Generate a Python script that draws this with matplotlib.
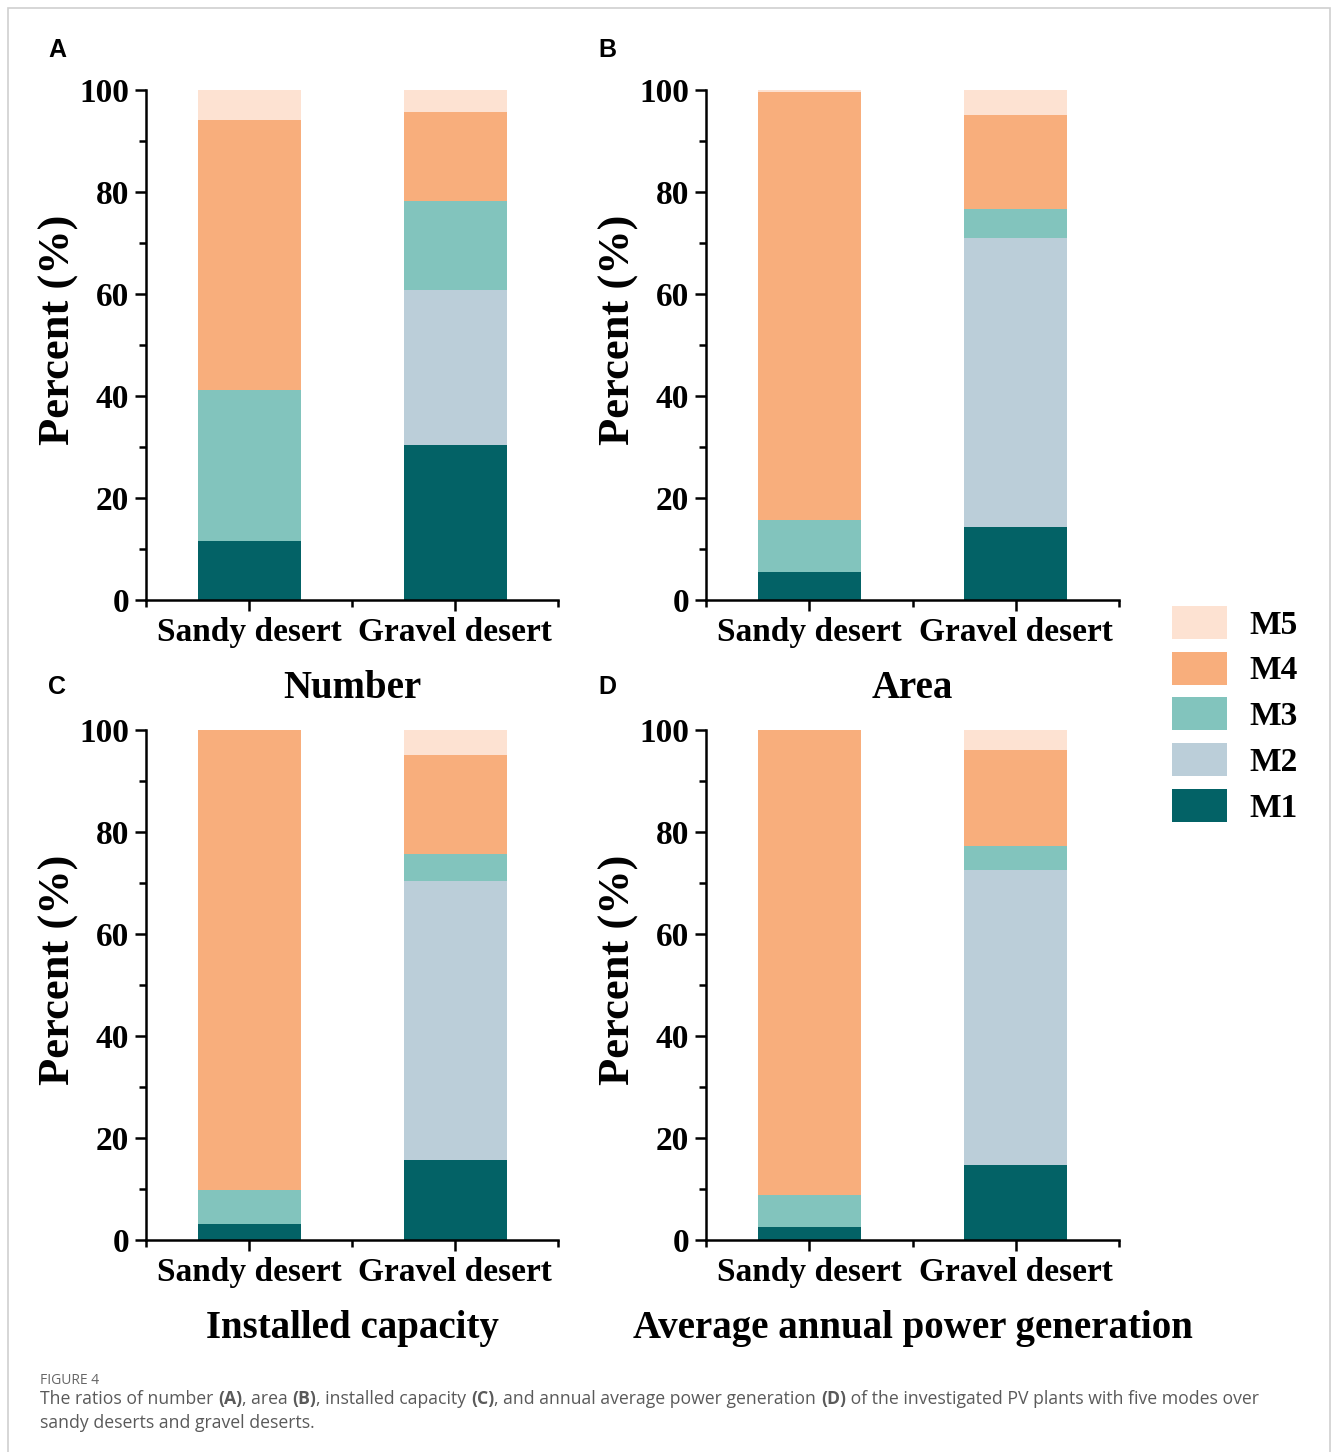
import matplotlib
matplotlib.use("Agg")
import matplotlib.pyplot as plt
from matplotlib.patches import Patch, Rectangle
from matplotlib.ticker import MultipleLocator, FixedLocator
import numpy as np

# ---------------- data ----------------
categories = ["Sandy desert", "Gravel desert"]
modes = ["M1", "M2", "M3", "M4", "M5"]
colors = ["#036266", "#BBCED9", "#82C4BD", "#F8AE7C", "#FDE2D2"]

# values per panel: one list per mode, columns = [Sandy, Gravel]
number_M1 = [11.6, 30.3]
number_M2 = [0.0, 30.5]
number_M3 = [29.5, 17.4]
number_M4 = [53.1, 17.5]
number_M5 = [5.8, 4.3]

area_M1 = [5.5, 14.4]
area_M2 = [0.0, 56.6]
area_M3 = [10.1, 5.7]
area_M4 = [84.1, 18.3]
area_M5 = [0.3, 5.0]

capacity_M1 = [3.2, 15.6]
capacity_M2 = [0.0, 54.7]
capacity_M3 = [6.6, 5.4]
capacity_M4 = [90.2, 19.4]
capacity_M5 = [0.0, 4.9]

power_M1 = [2.5, 14.8]
power_M2 = [0.0, 57.8]
power_M3 = [6.3, 4.7]
power_M4 = [91.2, 18.7]
power_M5 = [0.0, 4.0]

panel_titles = ["Number", "Area", "Installed capacity", "Average annual power generation"]
panel_letters = ["A", "B", "C", "D"]
ylabel_text = "Percent (%)"
yticks = [0, 20, 40, 60, 80, 100]

panels = [
    [number_M1, number_M2, number_M3, number_M4, number_M5],
    [area_M1, area_M2, area_M3, area_M4, area_M5],
    [capacity_M1, capacity_M2, capacity_M3, capacity_M4, capacity_M5],
    [power_M1, power_M2, power_M3, power_M4, power_M5],
]

caption_head = "FIGURE 4"
caption_line1 = [("The ratios of number ", False), ("(A)", True), (", area ", False), ("(B)", True),
                 (", installed capacity ", False), ("(C)", True), (", and annual average power generation ", False),
                 ("(D)", True), (" of the investigated PV plants with five modes over", False)]
caption_line2 = [("sandy deserts and gravel deserts.", False)]

# ---------------- figure ----------------
W, H = 1333, 1452
fig = plt.figure(figsize=(W / 100, H / 100), dpi=100)
fig.patch.set_facecolor("white")

serif = ["Liberation Serif", "DejaVu Serif"]

# outer frame
fig.add_artist(Rectangle((8 / W, -0.05), (1330 - 8) / W, 1.05 - 8 / H, transform=fig.transFigure,
                         fill=False, edgecolor="#cfcfcf", linewidth=1.2))

def px_rect(l, r, t, b):
    return [l / W, 1 - b / H, (r - l) / W, (b - t) / H]

rects = [px_rect(146, 558, 90, 600), px_rect(706, 1119, 90, 600),
         px_rect(146, 558, 730, 1240), px_rect(706, 1119, 730, 1240)]
letter_pos = [(57, 50), (607, 50), (57, 687), (607, 687)]

x = np.arange(len(categories))
for i, (rect, vals) in enumerate(zip(rects, panels)):
    ax = fig.add_axes(rect)
    bottom = np.zeros(len(categories))
    for m, (v, c) in enumerate(zip(vals, colors)):
        v = np.array(v)
        ax.bar(x, v, bottom=bottom, width=0.5, color=c, edgecolor="none", linewidth=0)
        bottom += v
    ax.set_xlim(-0.5, 1.5)
    ax.set_ylim(0, 100)
    ax.set_xticks(x)
    ax.set_xticklabels(categories, fontsize=24, fontweight="bold", family=serif)
    ax.xaxis.set_minor_locator(FixedLocator([-0.5, 0.5, 1.5]))
    ax.set_yticks(yticks)
    ax.yaxis.set_minor_locator(MultipleLocator(10))
    for lab in ax.get_yticklabels():
        lab.set_fontsize(24)
        lab.set_fontweight("bold")
        lab.set_family(serif)
    ax.tick_params(axis="both", which="major", direction="out", length=8, width=1.8, pad=4, colors="black")
    ax.tick_params(axis="both", which="minor", direction="out", length=5, width=1.8)
    for s in ["top", "right"]:
        ax.spines[s].set_visible(False)
    for s in ["left", "bottom"]:
        ax.spines[s].set_linewidth(1.8)
    ax.set_ylabel(ylabel_text, fontsize=32, fontweight="bold", family=serif)
    ax.yaxis.set_label_coords(-0.163, 0.53)
    ax.set_xlabel(panel_titles[i], fontsize=28, fontweight="bold", family=serif, labelpad=16)
    lx, ly = letter_pos[i]
    fig.text(lx / W, 1 - ly / H, panel_letters[i], fontsize=18, fontweight="bold",
             family=["Liberation Sans", "DejaVu Sans"], ha="center", va="center")

# legend
handles = [Patch(facecolor=c, edgecolor="none", label=m) for m, c in zip(modes, colors)][::-1]
fig.legend(handles=handles, loc="upper left", bbox_to_anchor=(1172 / W, 1 - 606 / H),
           frameon=False, prop={"family": serif, "weight": "bold", "size": 24},
           handlelength=1.65, handleheight=1.14, labelspacing=0.33, handletextpad=0.66,
           borderpad=0, borderaxespad=0)

# caption
cap_font = ["Open Sans", "DejaVu Sans"]
fig.text(40 / W, 1 - 1380 / H, caption_head, fontsize=10, color="#666666", family=cap_font, va="center")
renderer = fig.canvas.get_renderer()

def draw_segments(segs, y_px):
    xpos = 40 / W
    for txt, bold in segs:
        t = fig.text(xpos, 1 - y_px / H, txt, fontsize=12.7, color="#5a5a5a", family=cap_font,
                     fontweight="bold" if bold else "normal", va="center")
        bb = t.get_window_extent(renderer=renderer)
        xpos += bb.width / W

draw_segments(caption_line1, 1399)
draw_segments(caption_line2, 1423)

fig.savefig("out.png", dpi=100, facecolor="white")
